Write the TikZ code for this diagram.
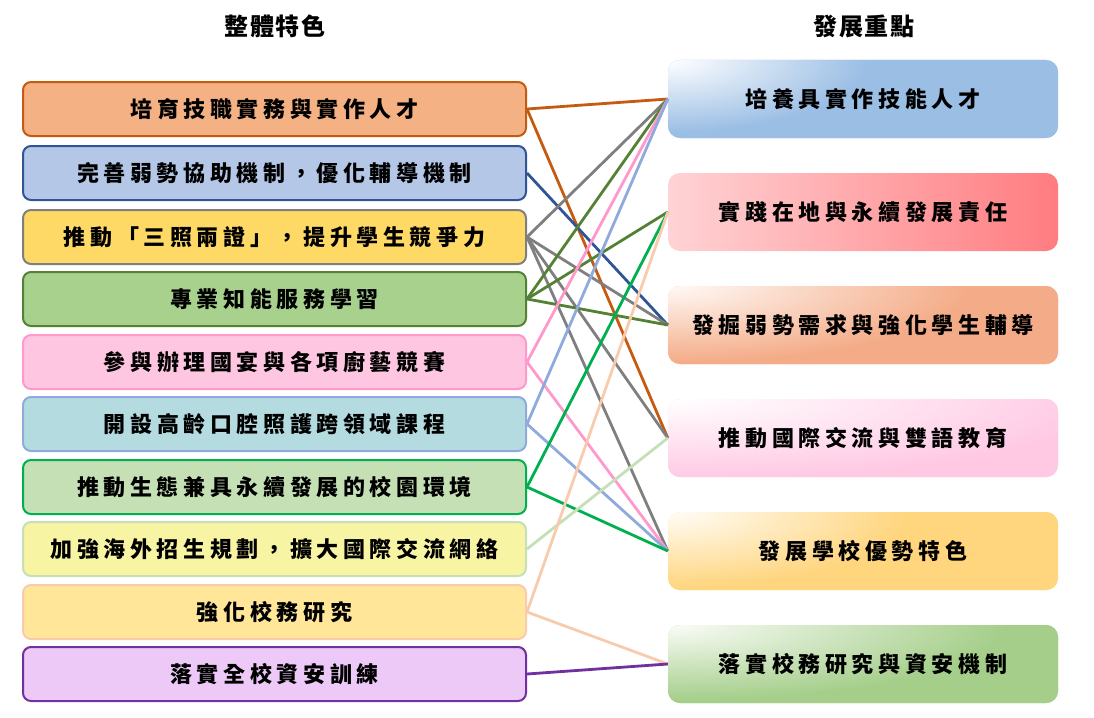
\documentclass[tikz,border=0pt]{standalone}
\usepackage{fontspec}
\usetikzlibrary{shadings}
\newfontfamily\cjkbox[LetterSpace=21]{Noto Sans CJK TC}
\newfontfamily\cjkhead[LetterSpace=8]{Noto Sans CJK TC}
\definecolor{bL1}{HTML}{C55A11}\definecolor{fL1}{HTML}{F4B183}
\definecolor{bL2}{HTML}{2F5597}\definecolor{fL2}{HTML}{B4C7E7}
\definecolor{bL3}{HTML}{7F7F7F}\definecolor{fL3}{HTML}{FFD966}
\definecolor{bL4}{HTML}{548235}\definecolor{fL4}{HTML}{A9D18E}
\definecolor{bL5}{HTML}{FF99CC}\definecolor{fL5}{HTML}{FFC6E2}
\definecolor{bL6}{HTML}{8FAADC}\definecolor{fL6}{HTML}{B4DCE0}
\definecolor{bL7}{HTML}{00B050}\definecolor{fL7}{HTML}{C5E0B4}
\definecolor{bL8}{HTML}{C5E0B4}\definecolor{fL8}{HTML}{F7F4A4}
\definecolor{bL9}{HTML}{F8CBAD}\definecolor{fL9}{HTML}{FFE699}
\definecolor{bL10}{HTML}{7030A0}\definecolor{fL10}{HTML}{EDC9F7}
\definecolor{rAt}{HTML}{FFFFFF}\definecolor{rA}{HTML}{9BBEE5}
\definecolor{rBl}{HTML}{FFD3D5}\definecolor{rBr}{HTML}{FF7C80}
\definecolor{rCt}{HTML}{FFFAF7}\definecolor{rC}{HTML}{F4AC88}
\definecolor{rDt}{HTML}{FFFFFF}\definecolor{rD}{HTML}{FFC9E4}
\definecolor{rEt}{HTML}{FFFDF8}\definecolor{rE}{HTML}{FFD57E}
\definecolor{rFt}{HTML}{FAFCF8}\definecolor{rF}{HTML}{A4CE89}
\pgfdeclareradialshading{gA}{\pgfpoint{0bp}{0bp}}{color(0bp)=(rAt); color(10bp)=(rA); color(50bp)=(rA)}
\pgfdeclareradialshading{gC}{\pgfpoint{0bp}{0bp}}{color(0bp)=(rCt); color(10bp)=(rC); color(50bp)=(rC)}
\pgfdeclareradialshading{gD}{\pgfpoint{0bp}{0bp}}{color(0bp)=(rDt); color(10bp)=(rD); color(50bp)=(rD)}
\pgfdeclareradialshading{gE}{\pgfpoint{0bp}{0bp}}{color(0bp)=(rEt); color(10bp)=(rE); color(50bp)=(rE)}
\pgfdeclareradialshading{gF}{\pgfpoint{0bp}{0bp}}{color(0bp)=(rFt); color(10bp)=(rF); color(50bp)=(rF)}
\begin{document}
\begin{tikzpicture}[x=1pt,y=-1pt,
  lbox/.style={draw=bL#1, fill=fL#1, line width=2pt, rounded corners=8pt,
    minimum width=503pt, minimum height=54pt, inner sep=0pt,
    font=\cjkbox\bfseries\fontsize{22}{26}\selectfont},
  rbox/.style={rounded corners=12pt, minimum width=390pt, minimum height=78pt,
    inner sep=0pt, font=\cjkbox\bfseries\fontsize{22}{26}\selectfont},
  rgrad/.style n args={4}{fill=#2, path picture={
      \shade[shading=#1] (path picture bounding box.north west)
        ellipse [x radius=#3, y radius=#4];}},
  head/.style={font=\cjkhead\bfseries\fontsize{24}{28}\selectfont, inner sep=0pt},
  link/.style={line width=2.8pt, draw=bL#1}
]
\useasboundingbox (0,0) rectangle (1094,717);
\node[head] (h1) at (275,26) {整體特色};
\node[head] (h2) at (864,26) {發展重點};

\node[lbox=1]  (L1)  at (274.5,109) {培育技職實務與實作人才};
\node[lbox=2]  (L2)  at (274.5,173) {完善弱勢協助機制，優化輔導機制};
\node[lbox=3]  (L3)  at (274.5,237) {推動「三照兩證」，提升學生競爭力};
\node[lbox=4]  (L4)  at (274.5,299) {專業知能服務學習};
\node[lbox=5]  (L5)  at (274.5,362) {參與辦理國宴與各項廚藝競賽};
\node[lbox=6]  (L6)  at (274.5,424) {開設高齡口腔照護跨領域課程};
\node[lbox=7]  (L7)  at (274.5,487) {推動生態兼具永續發展的校園環境};
\node[lbox=8]  (L8)  at (274.5,549) {加強海外招生規劃，擴大國際交流網絡};
\node[lbox=9]  (L9)  at (274.5,612) {強化校務研究};
\node[lbox=10] (L10) at (274.5,674) {落實全校資安訓練};

\node[rbox, rgrad={gA}{rA}{500pt}{180pt}] (R1) at (863,99) {培養具實作技能人才};
\node[rbox, left color=rBl, right color=rBr] (R2) at (863,212) {實踐在地與永續發展責任};
\node[rbox, rgrad={gC}{rC}{750pt}{190pt}] (R3) at (863,325) {發掘弱勢需求與強化學生輔導};
\node[rbox, rgrad={gD}{rD}{1100pt}{200pt}] (R4) at (863,438) {推動國際交流與雙語教育};
\node[rbox, rgrad={gE}{rE}{600pt}{190pt}] (R5) at (863,551) {發展學校優勢特色};
\node[rbox, rgrad={gF}{rF}{850pt}{190pt}] (R6) at (863,664) {落實校務研究與資安機制};

\draw[link=1] (L1.east) -- (R1.west);
\draw[link=1] (L1.east) -- (R4.west);
\draw[link=2] (L2.east) -- (R3.west);
\draw[link=3] (L3.east) -- (R1.west);
\draw[link=3] (L3.east) -- (R3.west);
\draw[link=3] (L3.east) -- (R4.west);
\draw[link=3] (L3.east) -- (R5.west);
\draw[link=4] (L4.east) -- (R1.west);
\draw[link=4] (L4.east) -- (R2.west);
\draw[link=4] (L4.east) -- (R3.west);
\draw[link=5] (L5.east) -- (R1.west);
\draw[link=5] (L5.east) -- (R5.west);
\draw[link=6] (L6.east) -- (R1.west);
\draw[link=6] (L6.east) -- (R5.west);
\draw[link=7] (L7.east) -- (R2.west);
\draw[link=7] (L7.east) -- (R5.west);
\draw[link=8] (L8.east) -- (R4.west);
\draw[link=9] (L9.east) -- (R2.west);
\draw[link=9] (L9.east) -- (R6.west);
\draw[link=10] (L10.east) -- (R6.west);
\end{tikzpicture}
\end{document}
